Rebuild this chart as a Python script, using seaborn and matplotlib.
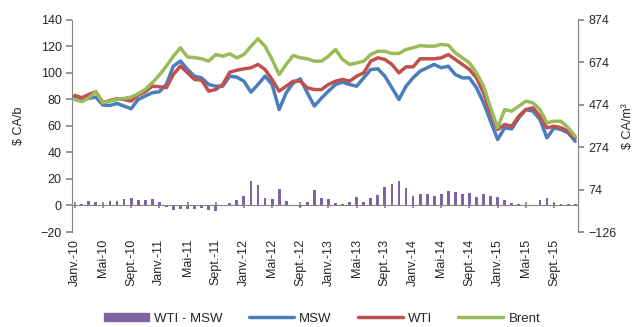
import matplotlib
matplotlib.use('Agg')
import pandas as pd
import matplotlib.pyplot as plt
import matplotlib.patches as mpatches
from matplotlib.lines import Line2D
import seaborn as sns

# monthly, Jan 2010 -> Dec 2015
month_names = ['Janv.', 'Févr.', 'Mars', 'Avr.', 'Mai', 'Juin',
               'Juil.', 'Août', 'Sept.', 'Oct.', 'Nov.', 'Déc.']
years = ['10', '11', '12', '13', '14', '15']
months = [f'{m}-{y}' for y in years for m in month_names]

wti_msw = [0.5, 0.8, 3.3, 3.0, 1.5, 3.3, 3.3, 5.0, 5.8, 3.8, 3.8, 5.0,
           2.5, -0.8, -3.3, -2.5, -2.5, -3.0, -2.0, -3.3, -3.8, 0.0, 1.8, 3.8,
           7.5, 18.4, 15.8, 5.8, 5.0, 12.6, 3.3, -0.3, -1.3, 2.5, 11.8, 6.0,
           5.0, 2.0, 1.0, 3.0, 6.3, 3.0, 6.0, 7.8, 13.8, 16.4, 18.4, 13.3,
           7.0, 8.3, 8.3, 7.0, 8.8, 10.8, 10.3, 8.3, 9.6, 6.3, 8.3, 7.5,
           6.3, 4.5, 2.0, 1.3, 0.3, 0.0, 4.5, 5.8, 2.0, 1.3, 0.8, 1.3]

msw = [81.8, 80.0, 80.8, 81.8, 75.8, 75.5, 77.0, 75.0, 73.0, 80.0, 82.6, 85.1,
       85.8, 91.4, 105.2, 109.0, 102.7, 97.6, 96.3, 91.3, 90.0, 90.0, 97.6, 96.8,
       93.8, 85.5, 91.3, 97.6, 91.3, 72.4, 85.0, 92.5, 95.6, 85.0, 75.0, 81.0,
       86.3, 91.3, 93.1, 91.3, 90.0, 96.3, 102.6, 103.1, 97.6, 88.8, 80.0, 90.0,
       96.3, 101.4, 103.9, 106.4, 103.9, 105.1, 98.8, 96.3, 96.3, 88.8, 77.5, 63.6,
       49.8, 58.6, 57.8, 66.1, 72.4, 71.2, 64.9, 51.0, 58.6, 57.3, 54.8, 48.5]

wti = [83.1, 81.3, 83.8, 85.8, 77.5, 79.3, 80.5, 80.0, 78.8, 83.3, 85.8, 90.1,
       89.6, 88.9, 98.9, 105.2, 100.2, 95.1, 94.6, 86.3, 87.5, 91.3, 100.6, 102.1,
       103.1, 103.9, 106.4, 102.6, 95.1, 86.3, 90.0, 93.8, 93.8, 88.8, 87.5, 87.5,
       91.3, 93.8, 95.1, 93.8, 97.6, 100.1, 108.9, 111.4, 110.2, 106.4, 100.1, 104.6,
       104.6, 110.7, 110.7, 110.7, 111.4, 113.9, 110.2, 106.4, 102.6, 96.3, 85.0, 69.9,
       57.3, 61.1, 59.8, 67.4, 72.4, 73.7, 67.4, 58.6, 59.8, 58.6, 56.1, 51.0]

brent = [80.0, 78.3, 81.3, 85.8, 77.5, 78.8, 80.0, 80.8, 81.8, 84.3, 87.6, 92.6,
         98.4, 105.2, 112.7, 119.0, 112.0, 111.6, 110.7, 108.9, 113.9, 112.7, 114.4, 111.4,
         113.9, 120.2, 125.8, 120.2, 110.2, 98.8, 106.4, 113.2, 111.4, 110.7, 108.9, 108.9,
         112.7, 117.7, 110.2, 106.4, 107.6, 108.9, 113.9, 116.4, 116.4, 114.7, 114.7, 117.7,
         119.0, 120.7, 120.2, 120.2, 121.5, 121.0, 115.2, 111.4, 107.6, 100.1, 90.0, 73.7,
         58.6, 72.4, 71.2, 74.9, 78.7, 77.5, 72.4, 62.4, 63.6, 63.6, 58.6, 52.3]

left_ticks = [-20, 0, 20, 40, 60, 80, 100, 120, 140]
right_ticks = [-126, 74, 274, 474, 674, 874]

c_bar = '#8064A2'
c_msw = '#4A7EBB'
c_wti = '#C0504D'
c_brent = '#9BBB59'
c_axis = '#868686'

df = pd.DataFrame({'idx': range(len(months)), 'month': months,
                   'diff': wti_msw, 'MSW': msw, 'WTI': wti, 'Brent': brent})

sns.set_theme(style='ticks')
plt.rcParams['font.family'] = ['Liberation Sans Narrow', 'Liberation Sans', 'DejaVu Sans']
plt.rcParams['font.size'] = 9

fig, ax = plt.subplots(figsize=(6.44, 3.27), dpi=100)
fig.subplots_adjust(left=0.112, right=0.8975, top=0.939, bottom=0.2905)

sns.barplot(data=df, x='idx', y='diff', color=c_bar, width=0.4,
            native_scale=True, ax=ax, saturation=1, edgecolor='none', linewidth=0)
for col, c in [('MSW', c_msw), ('WTI', c_wti), ('Brent', c_brent)]:
    sns.lineplot(data=df, x='idx', y=col, color=c, lw=2.5, ax=ax)

ax.set_xlim(-0.37, 71.4)
ax.set_ylim(-20, 140)
ax.set_yticks(left_ticks)
ax.set_ylabel('$ CA/b', fontsize=9, labelpad=11)
ax.set_xlabel('')

ax.set_xticks(df['idx'][::4].tolist())
ax.set_xticklabels(df['month'][::4].tolist())
ax.spines['bottom'].set_position(('data', 0))
ax.spines['top'].set_visible(False)
for s in ['bottom', 'left', 'right']:
    ax.spines[s].set_color(c_axis)
    ax.spines[s].set_linewidth(0.8)
ax.tick_params(axis='x', direction='inout', length=4, color=c_axis, pad=22,
               labelrotation=90, labelsize=9)
ax.tick_params(axis='y', direction='out', length=4, color=c_axis, labelsize=9)

ax2 = ax.twinx()
ax2.set_ylim(-126, 874)
ax2.set_yticks(right_ticks)
ax2.tick_params(axis='y', direction='out', length=4, color=c_axis, labelsize=9)
ax2.set_ylabel('$ CA/m³', fontsize=9, rotation=90, labelpad=4)
for s in ['top', 'left', 'bottom']:
    ax2.spines[s].set_visible(False)
ax2.spines['right'].set_color(c_axis)
ax2.spines['right'].set_linewidth(0.8)

handles = [mpatches.Patch(color=c_bar),
           Line2D([], [], color=c_msw, lw=2.5),
           Line2D([], [], color=c_wti, lw=2.5),
           Line2D([], [], color=c_brent, lw=2.5)]
fig.legend(handles, ['WTI - MSW', 'MSW', 'WTI', 'Brent'], loc='center',
           bbox_to_anchor=(0.5, 0.025), ncol=4, frameon=False, fontsize=9.5,
           handlelength=3.4, handleheight=0.6, columnspacing=2.0, handletextpad=0.4)

fig.savefig('out.png', dpi=100)
